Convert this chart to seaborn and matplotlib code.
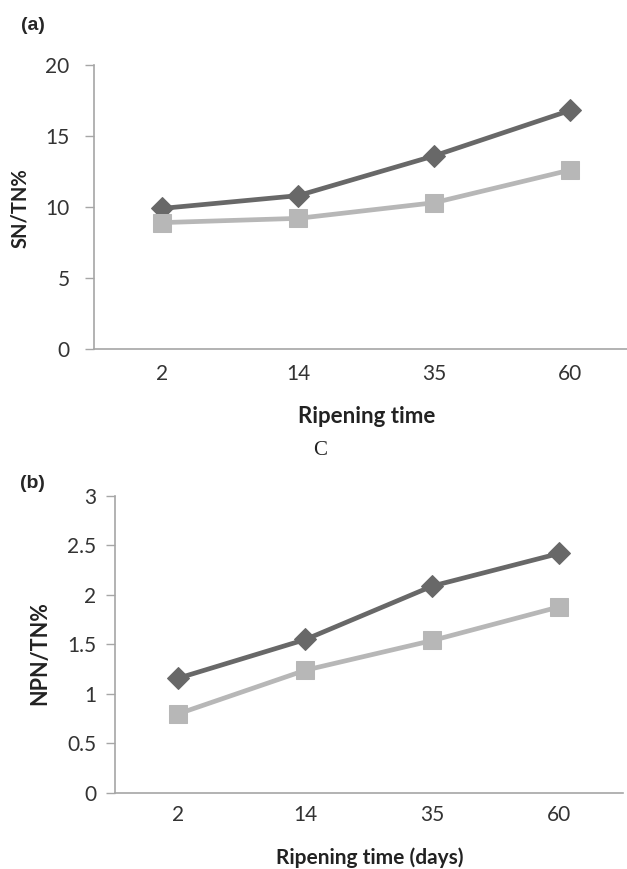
import numpy as np
import pandas as pd
import seaborn as sns
from matplotlib import pyplot as plt

# ripening days (categorical axis)
days = ["2", "14", "35", "60"]

# panel (a) SN/TN%
sn_dark = [9.9, 10.8, 13.6, 16.8]
sn_light = [8.9, 9.2, 10.3, 12.6]

# panel (b) NPN/TN%
npn_dark = [1.16, 1.55, 2.09, 2.42]
npn_light = [0.80, 1.24, 1.54, 1.88]

DARK = "#686868"
LIGHT = "#b7b7b7"
SPINE = "#a6a6a6"
TXT = "#333333"

sns.set_theme(style="white")
plt.rcParams['font.family'] = ['Lato', 'DejaVu Sans']


def draw_panel(ax, dark, light, ylim, yticks, yticklabels, xpad, ypad):
    df = pd.DataFrame({"pos": np.arange(len(days)), "dark": dark, "light": light})
    sns.lineplot(data=df, x="pos", y="dark", ax=ax, color=DARK, lw=3.4,
                 marker="D", markersize=11, markeredgecolor=DARK)
    sns.lineplot(data=df, x="pos", y="light", ax=ax, color=LIGHT, lw=3.4,
                 marker="s", markersize=12.5, markeredgecolor=LIGHT)
    ax.set_xlim(-0.5, 3.5)
    ax.set_ylim(*ylim)
    ax.set_xticks(df["pos"])
    ax.set_xticklabels(days)
    ax.set_yticks(yticks)
    ax.set_yticklabels(yticklabels)
    ax.tick_params(axis="x", length=0, labelsize=15, pad=xpad, labelcolor=TXT)
    ax.tick_params(axis="y", length=6.5, width=1, color=SPINE, direction="out",
                   labelsize=15, pad=ypad, labelcolor=TXT, left=True)
    for side in ["top", "right"]:
        ax.spines[side].set_visible(False)
    for side in ["left", "bottom"]:
        ax.spines[side].set_color(SPINE)
        ax.spines[side].set_linewidth(1.2)


fig = plt.figure(figsize=(6.27, 8.69), dpi=100)

# panel (a)
ax_a = fig.add_axes([0.150, 0.5984, 0.8676, 0.3268])
draw_panel(ax_a, sn_dark, sn_light, (0, 20), [0, 5, 10, 15, 20],
           ["0", "5", "10", "15", "20"], xpad=11, ypad=11)
ax_a.set_ylabel("SN/TN%", fontsize=14.5, fontweight="bold", color="#222222", va="center")
ax_a.yaxis.set_label_coords(-0.136, 0.496)
ax_a.set_xlabel("Ripening time", fontsize=16, fontweight="bold", color="#222222", va="center")
ax_a.xaxis.set_label_coords(0.502, -0.236)

# panel (b)
ax_b = fig.add_axes([0.1834, 0.0875, 0.810, 0.3418])
draw_panel(ax_b, npn_dark, npn_light, (0, 3), [0, 0.5, 1, 1.5, 2, 2.5, 3],
           ["0", "0.5", "1", "1.5", "2", "2.5", "3"], xpad=9, ypad=7)
ax_b.set_ylabel("NPN/TN%", fontsize=15.5, fontweight="bold", color="#222222", va="center")
ax_b.yaxis.set_label_coords(-0.148, 0.471)
ax_b.set_xlabel("Ripening time (days)", fontsize=15, fontweight="bold", color="#222222", va="center")
ax_b.xaxis.set_label_coords(0.502, -0.219)

fig.text(0.034, 1 - 26 / 869, "(a)", fontsize=14, fontweight="bold",
         family=["Liberation Sans", "DejaVu Sans"], va="center")
fig.text(0.032, 1 - 483 / 869, "(b)", fontsize=14, fontweight="bold",
         family=["Liberation Sans", "DejaVu Sans"], va="center")
fig.text(320 / 627, 1 - 450 / 869, "C", fontsize=15, family=["Liberation Serif", "DejaVu Serif"],
         ha="center", va="center", color="#222222")

plt.savefig("out.png", dpi=100)
plt.close()
